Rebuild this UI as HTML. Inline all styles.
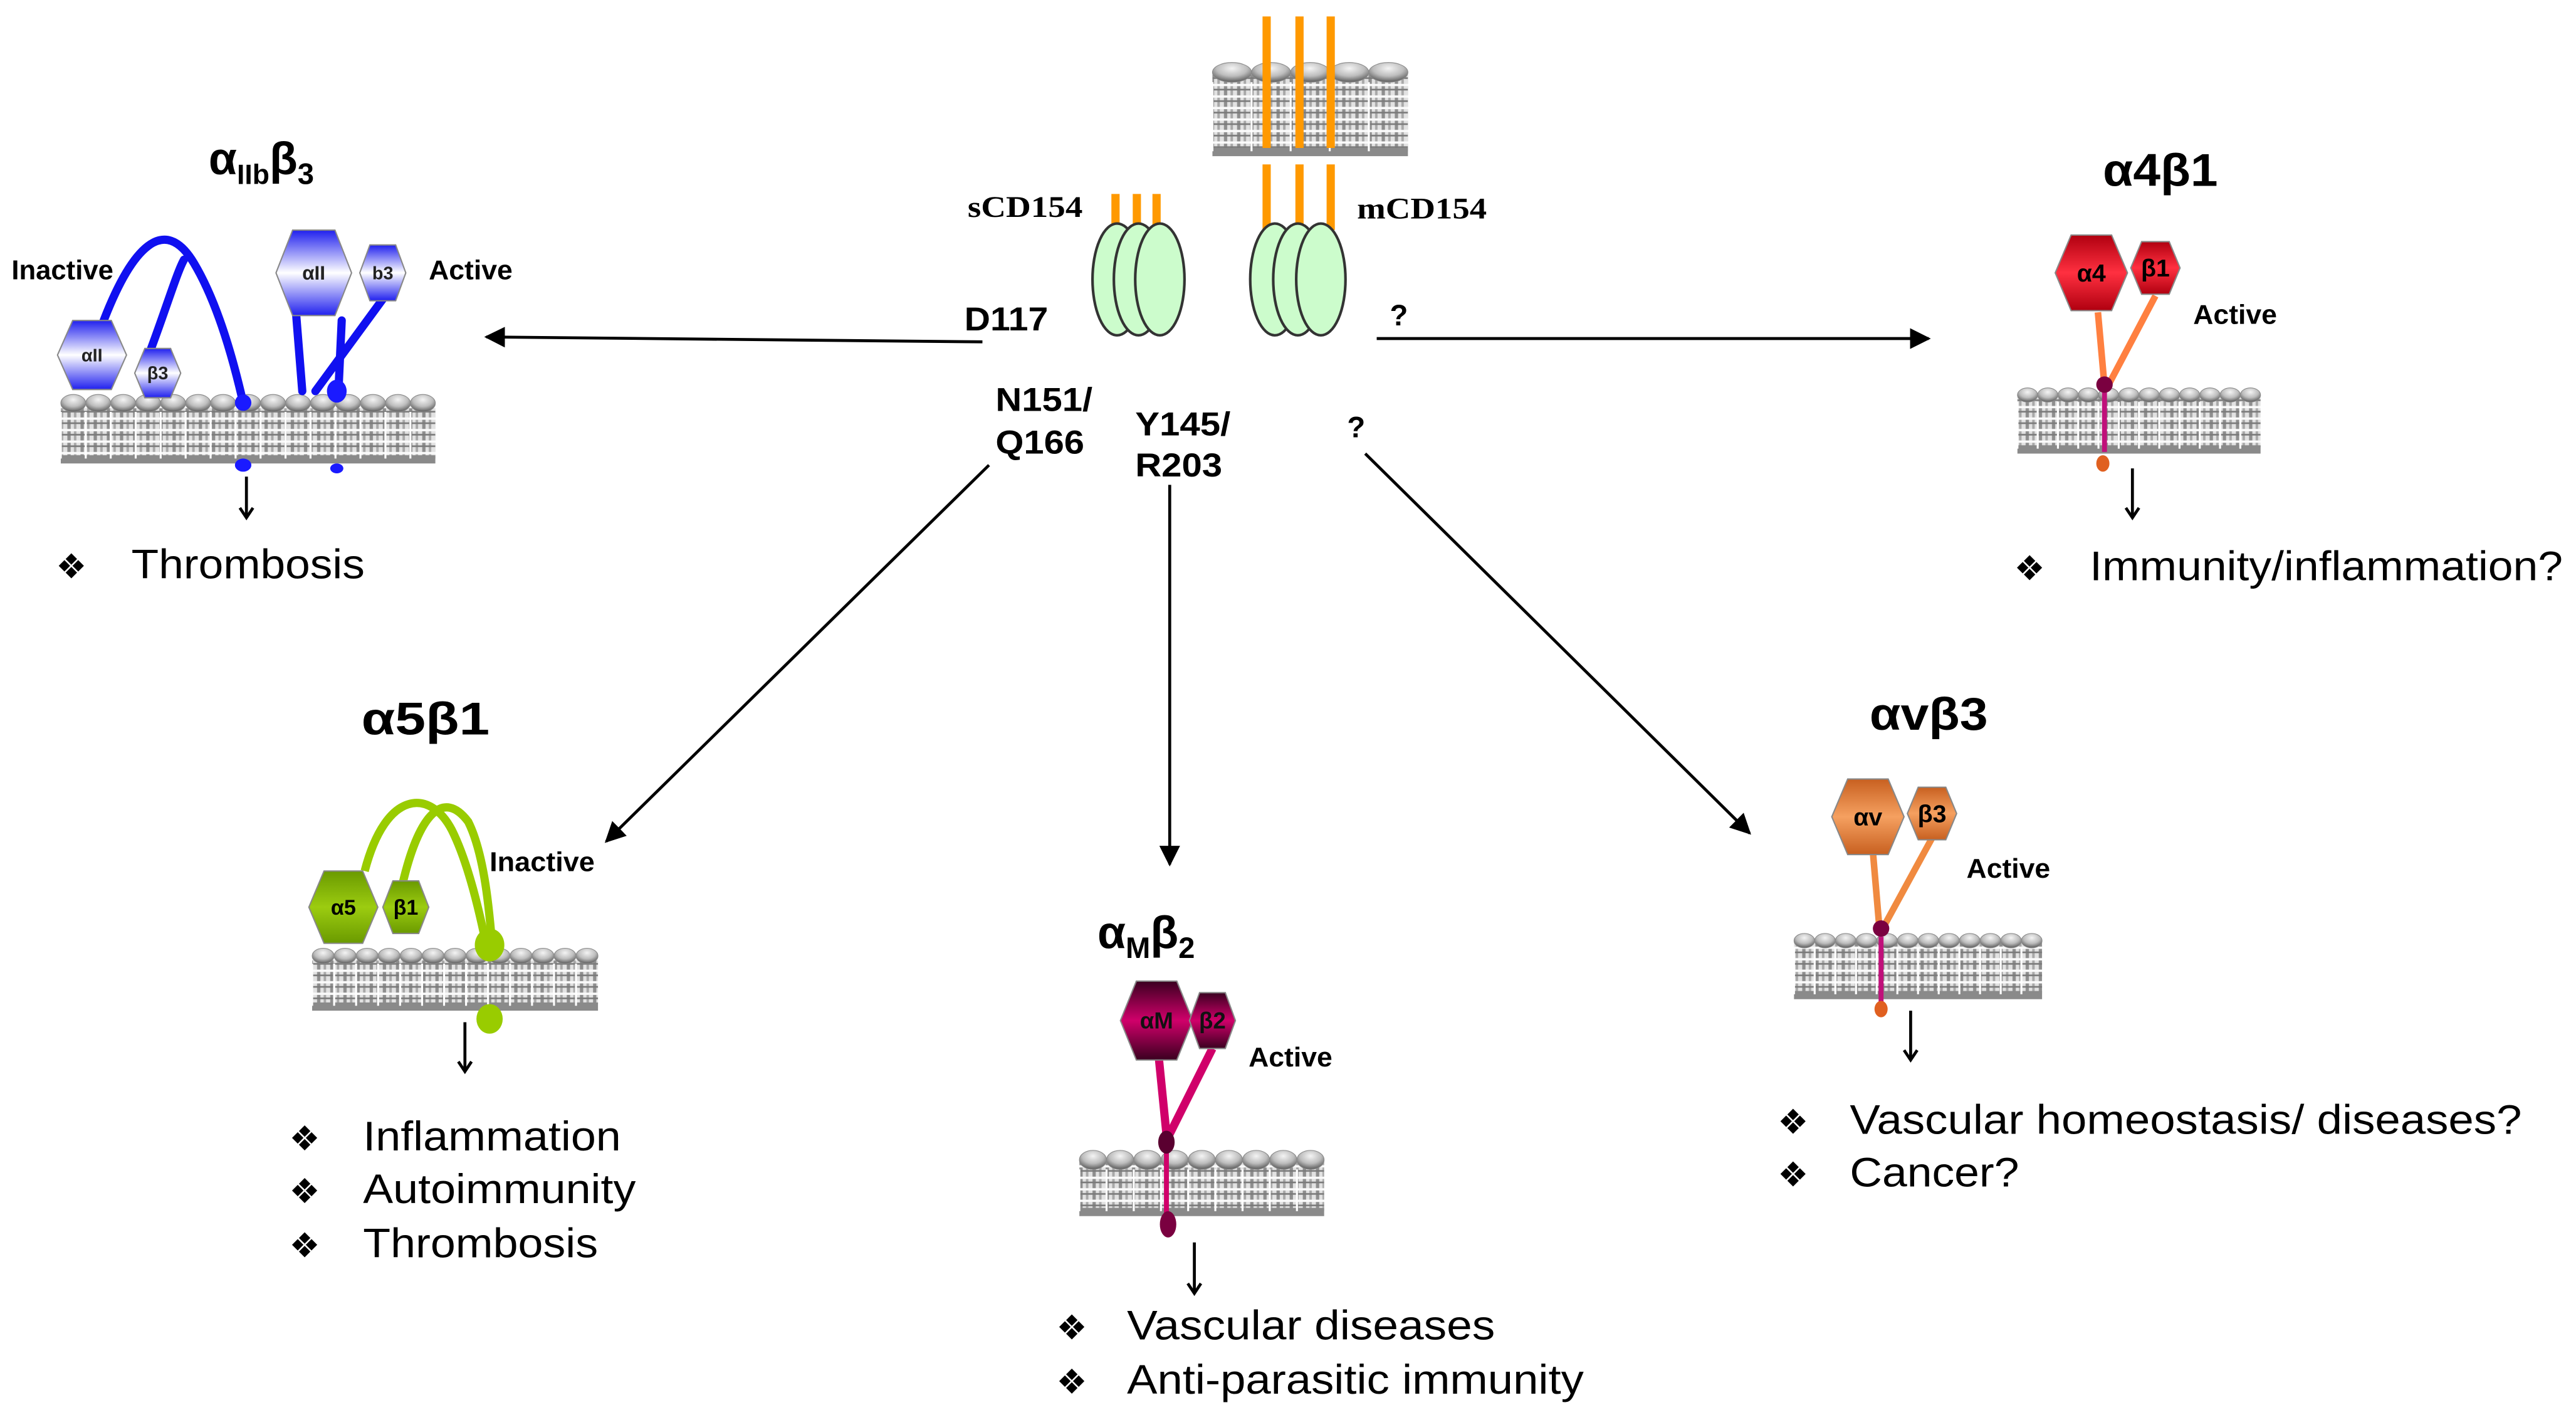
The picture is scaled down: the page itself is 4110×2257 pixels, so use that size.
<!DOCTYPE html>
<html><head><meta charset="utf-8">
<style>
html,body{margin:0;padding:0;background:#fff;}
svg{display:block;}
text{font-family:"Liberation Sans",sans-serif;}
</style></head>
<body>
<svg id="s" xmlns="http://www.w3.org/2000/svg" width="4110" height="2257" viewBox="0 0 1568 861">
<defs>
<radialGradient id="head" cx="50%" cy="30%" r="65%"><stop offset="0" stop-color="#f4f4f4"/><stop offset="0.6" stop-color="#bdbdbd"/><stop offset="1" stop-color="#6a6a6a"/></radialGradient>
<pattern id="tails" width="8" height="7" patternUnits="userSpaceOnUse">
<rect width="8" height="7" fill="#e2e2e2"/>
<rect x="1" y="0" width="2" height="7" fill="#8e8e8e"/>
<rect x="5" y="0" width="1.5" height="7" fill="#a8a8a8"/>
<rect x="0" y="2" width="8" height="1.4" fill="#fafafa"/>
<rect x="0" y="5" width="8" height="1" fill="#7a7a7a"/>
</pattern>
<marker id="ar" viewBox="0 0 10 10" refX="9" refY="5" markerWidth="7" markerHeight="7" orient="auto-start-reverse"><path d="M0,0 L10,5 L0,10 z" fill="#000"/></marker>
<linearGradient id="gBlue" x1="0" y1="0" x2="0" y2="1"><stop offset="0" stop-color="#2020ee"/><stop offset="0.5" stop-color="#ffffff"/><stop offset="1" stop-color="#2020ee"/></linearGradient>
<linearGradient id="gRed" x1="0" y1="0" x2="0" y2="1"><stop offset="0" stop-color="#b00010"/><stop offset="0.5" stop-color="#ff3040"/><stop offset="1" stop-color="#b00010"/></linearGradient>
<linearGradient id="gGreen" x1="0" y1="0" x2="0" y2="1"><stop offset="0" stop-color="#6a9a00"/><stop offset="0.5" stop-color="#9ccc10"/><stop offset="1" stop-color="#6a9a00"/></linearGradient>
<linearGradient id="gMag" x1="0" y1="0" x2="0" y2="1"><stop offset="0" stop-color="#3a0020"/><stop offset="0.5" stop-color="#d0006a"/><stop offset="1" stop-color="#3a0020"/></linearGradient>
<linearGradient id="gOr" x1="0" y1="0" x2="0" y2="1"><stop offset="0" stop-color="#c86020"/><stop offset="0.5" stop-color="#f5a060"/><stop offset="1" stop-color="#c86020"/></linearGradient>
</defs>
<g id="mem"></g>

<g stroke="#ff9900" stroke-width="5">
<line x1="771" y1="10" x2="771" y2="90"/><line x1="791" y1="10" x2="791" y2="90"/><line x1="810" y1="10" x2="810" y2="90"/>
<line x1="771" y1="100" x2="771" y2="140"/><line x1="791" y1="100" x2="791" y2="140"/><line x1="810" y1="100" x2="810" y2="140"/>
<line x1="679" y1="118" x2="679" y2="140"/><line x1="692" y1="118" x2="692" y2="140"/><line x1="704" y1="118" x2="704" y2="140"/>
</g>
<g fill="#ccfccc" stroke="#333" stroke-width="1.6">
<ellipse cx="680" cy="170" rx="15" ry="34"/><ellipse cx="693" cy="170" rx="15" ry="34"/><ellipse cx="706" cy="170" rx="15" ry="34"/>
<ellipse cx="776" cy="170" rx="15" ry="34"/><ellipse cx="790" cy="170" rx="15" ry="34"/><ellipse cx="804" cy="170" rx="15" ry="34"/>
</g>
<text x="589" y="132" font-weight="bold" font-size="18" textLength="70" lengthAdjust="spacingAndGlyphs" style="font-family:'Liberation Serif',serif">sCD154</text>
<text x="826" y="133" font-weight="bold" font-size="18" textLength="79" lengthAdjust="spacingAndGlyphs" style="font-family:'Liberation Serif',serif">mCD154</text>

<g stroke="#000" stroke-width="1.8" fill="none">
<line x1="598" y1="208" x2="296" y2="205" marker-end="url(#ar)"/>
<line x1="838" y1="206" x2="1174" y2="206" marker-end="url(#ar)"/>
<line x1="602" y1="283" x2="369" y2="512" marker-end="url(#ar)"/>
<line x1="712" y1="295" x2="712" y2="526" marker-end="url(#ar)"/>
<line x1="831" y1="276" x2="1065" y2="507" marker-end="url(#ar)"/>
<line x1="150" y1="290" x2="150" y2="314"/><path d="M146,309 L150,315 L154,309"/>
<line x1="1298" y1="285" x2="1298" y2="314"/><path d="M1294,309 L1298,315 L1302,309"/>
<line x1="283" y1="622" x2="283" y2="651"/><path d="M279,646 L283,652 L287,646"/>
<line x1="727" y1="756" x2="727" y2="786"/><path d="M723,781 L727,787 L731,781"/>
<line x1="1163" y1="615" x2="1163" y2="644"/><path d="M1159,639 L1163,645 L1167,639"/>
</g>
<g font-weight="bold" font-size="20">
<text x="587" y="201" textLength="51" lengthAdjust="spacingAndGlyphs">D117</text>
<text x="846" y="198" font-size="18">?</text>
<text x="606" y="250" textLength="59" lengthAdjust="spacingAndGlyphs">N151/</text><text x="606" y="276" textLength="54" lengthAdjust="spacingAndGlyphs">Q166</text>
<text x="691" y="265" textLength="58" lengthAdjust="spacingAndGlyphs">Y145/</text><text x="691" y="290" textLength="53" lengthAdjust="spacingAndGlyphs">R203</text>
<text x="820" y="266" font-size="18">?</text>
</g>

<g font-weight="bold" font-size="28">
<text x="127" y="106">α<tspan font-size="17" dy="6">IIb</tspan><tspan dy="-6">β</tspan><tspan font-size="18" dy="6">3</tspan></text>
<text x="1280" y="113" textLength="70" lengthAdjust="spacingAndGlyphs">α4β1</text>
<text x="220" y="447" textLength="78" lengthAdjust="spacingAndGlyphs">α5β1</text>
<text x="668" y="577">α<tspan font-size="18" dy="6">M</tspan><tspan dy="-6">β</tspan><tspan font-size="18" dy="6">2</tspan></text>
<text x="1138" y="444" textLength="72" lengthAdjust="spacingAndGlyphs">αvβ3</text>
</g>
<g font-weight="bold" font-size="16.5">
<text x="7" y="170" textLength="62" lengthAdjust="spacingAndGlyphs">Inactive</text><text x="261" y="170" textLength="51" lengthAdjust="spacingAndGlyphs">Active</text>
<text x="1335" y="197" textLength="51" lengthAdjust="spacingAndGlyphs">Active</text>
<text x="298" y="530" textLength="64" lengthAdjust="spacingAndGlyphs">Inactive</text>
<text x="760" y="649" textLength="51" lengthAdjust="spacingAndGlyphs">Active</text>
<text x="1197" y="534" textLength="51" lengthAdjust="spacingAndGlyphs">Active</text>
</g>

<g stroke="#1010f0" stroke-width="5" fill="none" stroke-linecap="round">
<path d="M62,198 C80,150 100,130 118,160 C130,180 140,210 148,245"/>
<path d="M92,212 C102,185 108,165 112,158"/>
<path d="M180,188 L184,238"/>
<path d="M233,182 L192,238" />
<path d="M208,195 L206,238"/>
</g>
<g fill="#1a1aff"><ellipse cx="148" cy="245" rx="5" ry="5"/><ellipse cx="205" cy="238" rx="6" ry="7"/><ellipse cx="148" cy="283" rx="5" ry="4"/><ellipse cx="205" cy="285" rx="4" ry="3"/></g>

<g stroke="#ff8040" stroke-width="4" fill="none"><line x1="1277" y1="190" x2="1281" y2="235"/><line x1="1312" y1="180" x2="1283" y2="235"/></g>
<g stroke="#c0107a" stroke-width="3"><line x1="1281" y1="238" x2="1281" y2="275"/></g>
<ellipse cx="1281" cy="234" rx="5" ry="5" fill="#7a0040"/><ellipse cx="1280" cy="282" rx="4" ry="5" fill="#e06020"/>

<g stroke="#99cc00" stroke-width="5" fill="none">
<path d="M222,530 C235,480 262,480 275,505 C285,525 292,555 297,580"/>
<path d="M245,538 C255,495 270,480 285,500 C295,520 298,555 300,580"/>
</g>
<ellipse cx="298" cy="575" rx="9" ry="10" fill="#99cc00"/><ellipse cx="298" cy="620" rx="8" ry="9" fill="#99cc00"/>

<g stroke="#d0006a" stroke-width="5" fill="none"><line x1="705" y1="640" x2="710" y2="690"/><line x1="738" y1="638" x2="712" y2="690"/></g>
<g stroke="#d0006a" stroke-width="3"><line x1="710" y1="700" x2="710" y2="740"/></g>
<ellipse cx="710" cy="695" rx="5" ry="7" fill="#5a0030"/><ellipse cx="711" cy="745" rx="5" ry="8" fill="#7a0040"/>

<g stroke="#f08a40" stroke-width="4" fill="none"><line x1="1140" y1="518" x2="1144" y2="565"/><line x1="1176" y1="510" x2="1146" y2="565"/></g>
<g stroke="#c0107a" stroke-width="3"><line x1="1145" y1="570" x2="1145" y2="610"/></g>
<ellipse cx="1145" cy="565" rx="5" ry="5" fill="#7a0040"/><ellipse cx="1145" cy="614" rx="4" ry="5" fill="#e06020"/>

<g id="hex"></g>

<g font-size="25">
<text x="34" y="352" font-size="21">❖</text><text x="80" y="352" textLength="142" lengthAdjust="spacingAndGlyphs">Thrombosis</text>
<text x="1226" y="353" font-size="21">❖</text><text x="1272" y="353" textLength="288" lengthAdjust="spacingAndGlyphs">Immunity/inflammation?</text>
<text x="176" y="700" font-size="21">❖</text><text x="221" y="700" textLength="157" lengthAdjust="spacingAndGlyphs">Inflammation</text>
<text x="176" y="732" font-size="21">❖</text><text x="221" y="732" textLength="166" lengthAdjust="spacingAndGlyphs">Autoimmunity</text>
<text x="176" y="765" font-size="21">❖</text><text x="221" y="765" textLength="143" lengthAdjust="spacingAndGlyphs">Thrombosis</text>
<text x="643" y="815" font-size="21">❖</text><text x="686" y="815" textLength="224" lengthAdjust="spacingAndGlyphs">Vascular diseases</text>
<text x="643" y="848" font-size="21">❖</text><text x="686" y="848" textLength="278" lengthAdjust="spacingAndGlyphs">Anti-parasitic immunity</text>
<text x="1082" y="690" font-size="21">❖</text><text x="1126" y="690" textLength="409" lengthAdjust="spacingAndGlyphs">Vascular homeostasis/ diseases?</text>
<text x="1082" y="722" font-size="21">❖</text><text x="1126" y="722" textLength="103" lengthAdjust="spacingAndGlyphs">Cancer?</text>
</g>
</svg>
<script>
var NS="http://www.w3.org/2000/svg";
function el(p,t,a,txt){var e=document.createElementNS(NS,t);for(var k in a)e.setAttribute(k,a[k]);if(txt)e.textContent=txt;p.appendChild(e);return e;}
var mem=document.getElementById('mem');
function membrane(x1,x2,y1,y2,n){
  var sp=(x2-x1)/n, r=sp/2, ry=Math.min(6,r*0.7);
  el(mem,'rect',{x:x1,y:y1+ry,width:x2-x1,height:y2-y1-ry-3,fill:'url(#tails)'});
  el(mem,'rect',{x:x1,y:y2-5,width:x2-x1,height:5,fill:'#8a8a8a'});
  for(var i=0;i<n;i++){
    var x=x1+r+i*sp;
    el(mem,'ellipse',{cx:x,cy:y1+ry,rx:r,ry:ry,fill:'url(#head)',stroke:'#888','stroke-width':0.4});
    el(mem,'line',{x1:x-r,y1:y1+ry*2,x2:x-r,y2:y2-3,stroke:'#fff','stroke-width':1.2});
  }
}
membrane(738,857,38,95,5);
membrane(37,265,240,282,15);
membrane(1228,1376,236,276,12);
membrane(190,364,577,615,13);
membrane(657,806,700,740,9);
membrane(1092,1243,568,608,12);
var hx=document.getElementById('hex');
function hex(cx,cy,w,h,fill,label,fs,col){
  var a=w*0.28;
  var pts=[[cx-w/2,cy],[cx-a,cy-h/2],[cx+a,cy-h/2],[cx+w/2,cy],[cx+a,cy+h/2],[cx-a,cy+h/2]].map(function(p){return p.join(',')}).join(' ');
  el(hx,'polygon',{points:pts,fill:fill,stroke:'#888','stroke-width':0.8});
  el(hx,'text',{x:cx,y:cy+fs*0.35,'text-anchor':'middle','font-size':fs,fill:col||'#000','font-weight':'bold'},label);
}
hex(56,216,42,42,'url(#gBlue)','αII',11,'#222');
hex(96,227,28,30,'url(#gBlue)','β3',11,'#222');
hex(191,166,46,52,'url(#gBlue)','αII',12,'#222');
hex(233,166,28,34,'url(#gBlue)','b3',11,'#222');
hex(1273,166,44,46,'url(#gRed)','α4',15,'#000');
hex(1312,163,30,32,'url(#gRed)','β1',15,'#000');
hex(209,552,42,44,'url(#gGreen)','α5',13,'#000');
hex(247,552,28,32,'url(#gGreen)','β1',13,'#000');
hex(704,621,44,48,'url(#gMag)','αM',14,'#111');
hex(738,621,28,34,'url(#gMag)','β2',14,'#111');
hex(1137,497,44,46,'url(#gOr)','αv',15,'#000');
hex(1176,495,30,32,'url(#gOr)','β3',15,'#000');
</script>
</body></html>
